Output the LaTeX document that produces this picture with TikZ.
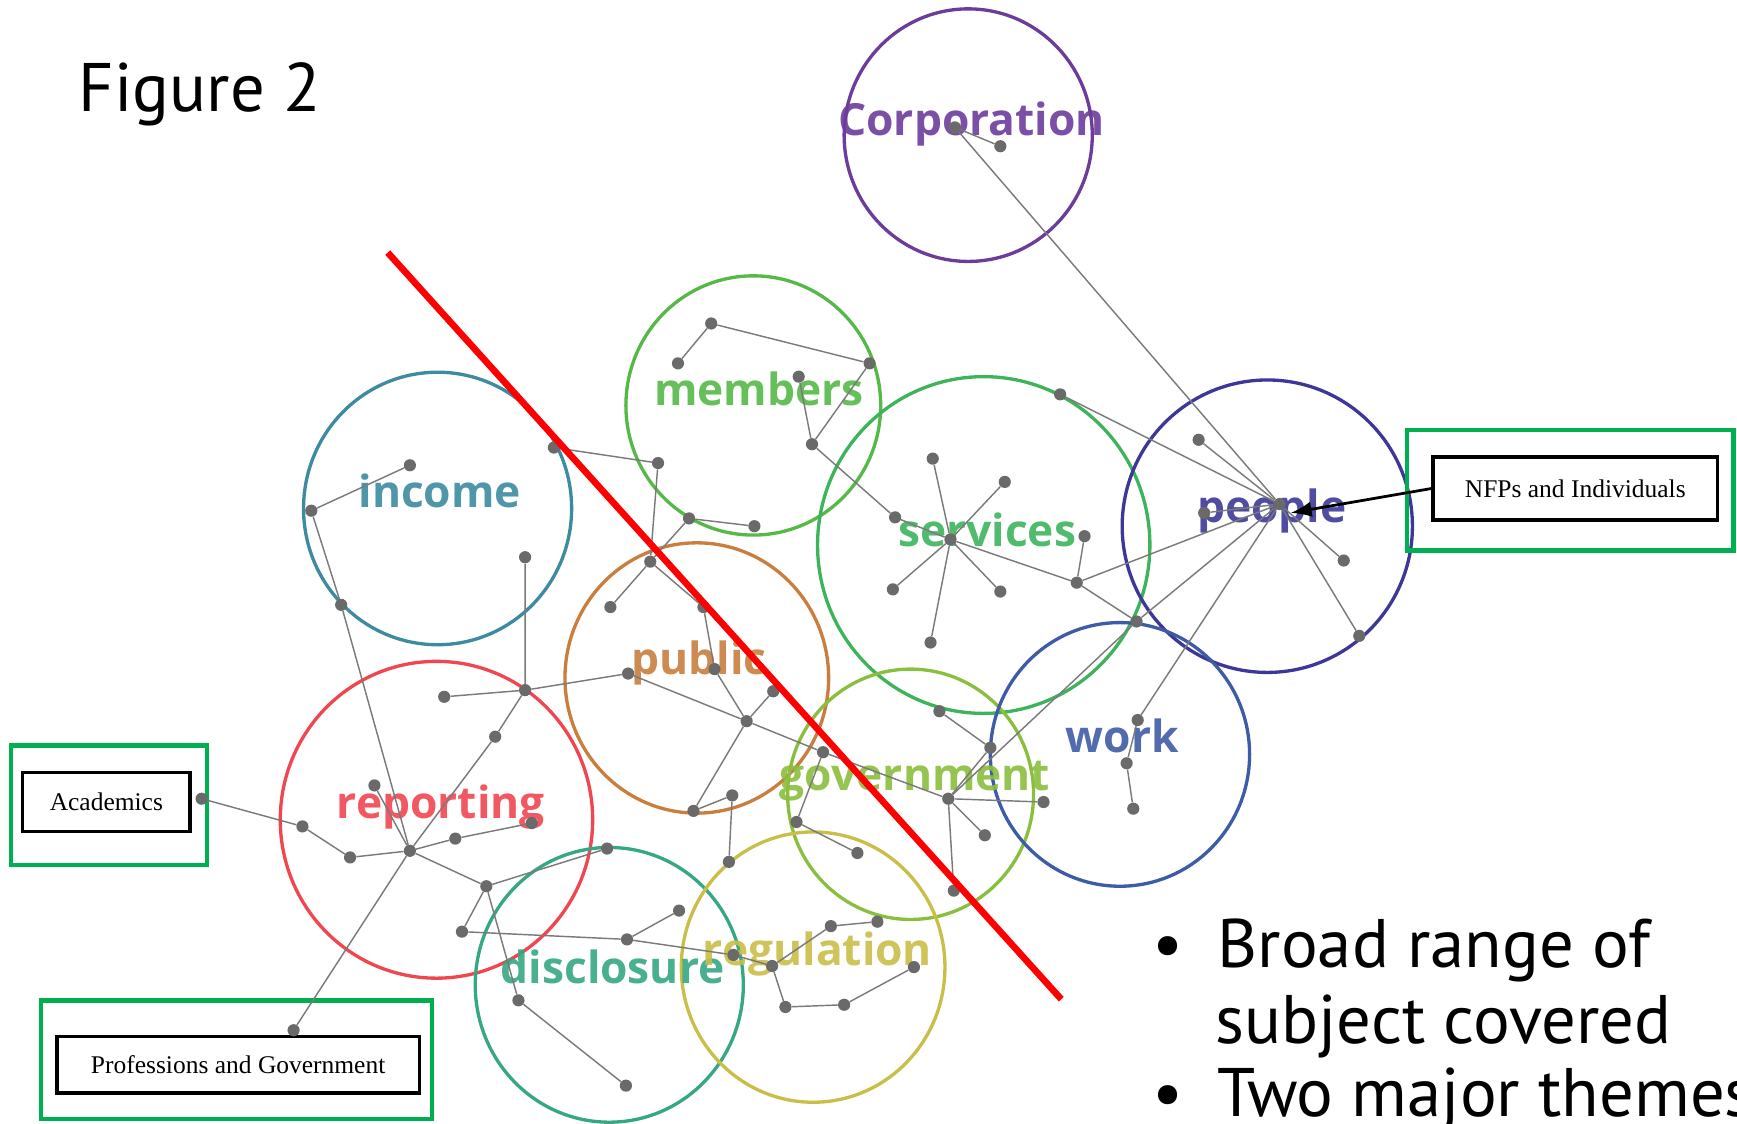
\documentclass[tikz,border=0pt]{standalone}
\usepackage{fontspec}
\setmainfont{Liberation Serif}
\newfontfamily\handfont{PT Sans}
\newfontfamily\topicfont{Open Sans}
\usepackage{xcolor}
\usetikzlibrary{arrows.meta}
\tikzset{>={Latex[width=14pt,length=19pt]}}
\definecolor{linkgray}{HTML}{7A7A7A}
\definecolor{dotgray}{HTML}{6A6A6A}
\definecolor{boxgreen}{HTML}{00B050}
\definecolor{corpcol}{HTML}{6B3C9B}
\definecolor{memcol}{HTML}{55B947}
\definecolor{inccol}{HTML}{3D8BA0}
\definecolor{servcol}{HTML}{3DB45C}
\definecolor{peopcol}{HTML}{3D3897}
\definecolor{pubcol}{HTML}{C97E3E}
\definecolor{repcol}{HTML}{EF4650}
\definecolor{govcol}{HTML}{8ABE3E}
\definecolor{workcol}{HTML}{3E5BA5}
\definecolor{disccol}{HTML}{35A783}
\definecolor{regcol}{HTML}{C9BE48}
\tikzset{
	ring/.style={line width=3pt},
	topic/.style={font=\topicfont\bfseries\fontsize{40}{42}\selectfont, anchor=base, inner sep=0pt, opacity=0.9},
	netdot/.style={circle, fill=dotgray, inner sep=0pt, minimum size=11pt},
	link/.style={draw=linkgray, line width=1.3pt},
	labelbox/.style={draw=black, line width=3pt, fill=white, font=\fontsize{23}{25}\selectfont, inner sep=0pt},
	greenbox/.style={draw=boxgreen, line width=4pt},
	handtext/.style={font=\handfont\fontsize{62}{64}\selectfont, anchor=base west, inner sep=0pt}
}

\begin{document}
\begin{tikzpicture}[x=1pt,y=-1pt]
		\useasboundingbox (0,0) rectangle (1568,1014);
		\clip (0,0) rectangle (1568,1014);
		\begin{scope}
			%topic circles
			\draw[ring,corpcol] (874,122) ellipse [x radius=112,y radius=114];
			\draw[ring,memcol] (680,366) ellipse [x radius=115,y radius=117];
			\draw[ring,inccol] (395,459) ellipse [x radius=121,y radius=123];
			\draw[ring,servcol] (888,492) ellipse [x radius=150,y radius=152];
			\draw[ring,peopcol] (1144,475) ellipse [x radius=131,y radius=132];
			\draw[ring,pubcol] (629,612) ellipse [x radius=119,y radius=122];
			\draw[ring,repcol] (394,740) ellipse [x radius=141,y radius=143];
			\draw[ring,govcol] (822,717) ellipse [x radius=111,y radius=113];
			\draw[ring,workcol] (1011,681) ellipse [x radius=117,y radius=119];
			\draw[ring,disccol] (550,889) ellipse [x radius=121,y radius=124];
			\draw[ring,regcol] (734,873) ellipse [x radius=119,y radius=122];
			%topic labels
			\node[topic,text=corpcol] (corp) at (877,122) {Corporation};
			\node[topic,text=memcol] (mem) at (685,366) {members};
			\node[topic,text=inccol] (inc) at (397,458) {income};
			\node[topic,text=servcol] (serv) at (891,493) {services};
			\node[topic,text=peopcol] (peop) at (1148,472) {people};
			\node[topic,text=pubcol] (pub) at (631,609) {public};
			\node[topic,text=repcol] (rep) at (398,739) {reporting};
			\node[topic,text=govcol] (gov) at (826,714) {government};
			\node[topic,text=workcol] (work) at (1013,679) {work};
			\node[topic,text=disccol] (disc) at (553,888) {disclosure};
			\node[topic,text=regcol] (reg) at (738,872) {regulation};
		\end{scope}
		\begin{scope}
			%group boxes
			\draw[greenbox] (1270,388) rectangle (1565,497);
			\node[labelbox,minimum width=257pt,minimum height=57pt] (nfp) at (1422,441) {NFPs and Individuals};
			\draw[greenbox] (10,673) rectangle (187,781);
			\node[labelbox,minimum width=151pt,minimum height=53pt] (acad) at (96,724) {Academics};
			\draw[greenbox] (37,903) rectangle (390,1010);
			\node[labelbox,minimum width=327pt,minimum height=51pt] (prof) at (215,961) {Professions and Government};
		\end{scope}
		\begin{scope}
			%Corporation and people
			\node[netdot] (c1) at (862,115) {}; \node[netdot] (c2) at (903,132) {};
			\node[netdot] (p0) at (1155,455) {}; \node[netdot] (p1) at (1082,397) {};
			\node[netdot] (p2) at (1213,506) {}; \node[netdot] (p3) at (1227,574) {};
			\node[netdot] (p4) at (1087,463) {}; \node[netdot] (x0) at (1026,561) {};
			%services
			\node[netdot] (s0) at (858,487) {}; \node[netdot] (s1) at (842,414) {};
			\node[netdot] (s2) at (907,435) {}; \node[netdot] (s3) at (806,532) {};
			\node[netdot] (s4) at (903,534) {}; \node[netdot] (s5) at (840,580) {};
			\node[netdot] (s6) at (808,467) {}; \node[netdot] (s7) at (957,356) {};
			\node[netdot] (s8) at (972,526) {}; \node[netdot] (s9) at (979,484) {};
			%members
			\node[netdot] (m1) at (642,292) {}; \node[netdot] (m2) at (612,328) {};
			\node[netdot] (m3) at (785,328) {}; \node[netdot] (m4) at (721,340) {};
			\node[netdot] (m5) at (733,401) {}; \node[netdot] (m6) at (594,418) {};
			\node[netdot] (m7) at (500,404) {}; \node[netdot] (m8) at (622,468) {};
			\node[netdot] (m9) at (681,475) {};
			%income
			\node[netdot] (i1) at (370,420) {}; \node[netdot] (i2) at (281,461) {};
			\node[netdot] (i3) at (308,546) {}; \node[netdot] (i4) at (474,503) {};
			\node[netdot] (j0) at (474,623) {}; \node[netdot] (j1) at (401,629) {};
			\node[netdot] (j2) at (447,665) {};
			%public
			\node[netdot] (pu1) at (587,507) {}; \node[netdot] (pu2) at (551,548) {};
			\node[netdot] (pu3) at (635,548) {}; \node[netdot] (pu4) at (645,604) {};
			\node[netdot] (pu5) at (674,651) {}; \node[netdot] (pu6) at (567,608) {};
			\node[netdot] (pu7) at (698,624) {}; \node[netdot] (pu8) at (626,732) {};
			\node[netdot] (pu9) at (661,718) {}; \node[netdot] (pu10) at (658,778) {};
			%government and work
			\node[netdot] (g0) at (856,721) {}; \node[netdot] (g1) at (848,642) {};
			\node[netdot] (g2) at (894,675) {}; \node[netdot] (g3) at (942,724) {};
			\node[netdot] (g4) at (889,754) {}; \node[netdot] (g5) at (861,804) {};
			\node[netdot] (gl1) at (743,679) {}; \node[netdot] (gl2) at (719,742) {};
			\node[netdot] (gl3) at (774,770) {};
			\node[netdot] (w1) at (1027,650) {}; \node[netdot] (w2) at (1017,689) {};
			\node[netdot] (w3) at (1023,730) {};
			%reporting
			\node[netdot] (r0) at (370,768) {}; \node[netdot] (r1) at (338,709) {};
			\node[netdot] (r2) at (316,774) {}; \node[netdot] (r3) at (273,746) {};
			\node[netdot] (r4) at (411,757) {}; \node[netdot] (r5) at (480,743) {};
			\node[netdot] (r6) at (439,800) {};
			\node[netdot] (e1) at (182,721) {}; \node[netdot] (e2) at (265,930) {};
			%disclosure and regulation
			\node[netdot] (d1) at (548,766) {}; \node[netdot] (d2) at (417,841) {};
			\node[netdot] (d3) at (566,848) {}; \node[netdot] (d4) at (613,822) {};
			\node[netdot] (d5) at (468,903) {}; \node[netdot] (d6) at (565,980) {};
			\node[netdot] (q0) at (697,872) {}; \node[netdot] (q1) at (662,862) {};
			\node[netdot] (q2) at (709,909) {}; \node[netdot] (q3) at (762,907) {};
			\node[netdot] (q4) at (825,873) {}; \node[netdot] (q5) at (750,836) {};
			\node[netdot] (q6) at (792,832) {};
			%links
			\draw[link] (c2) -- (c1) -- (p0);
			\draw[link] (p1) -- (p0) -- (p2);
			\draw[link] (p0) -- (p3);
			\draw[link] (p4) -- (p0) -- (s7);
			\draw[link] (s8) -- (p0) -- (x0) -- (g0);
			\draw[link] (s8) -- (x0);
			\draw[link] (p0) -- (w1) -- (w2) -- (w3);
			\draw[link] (s0) -- (s1);
			\draw[link] (s0) -- (s2);
			\draw[link] (s0) -- (s3);
			\draw[link] (s0) -- (s4);
			\draw[link] (s0) -- (s5);
			\draw[link] (m5) -- (s6) -- (s0) -- (s8) -- (s9);
			\draw[link] (m2) -- (m1) -- (m3) -- (m5) -- (m4);
			\draw[link] (m7) -- (m6) -- (pu1) -- (m8) -- (m9);
			\draw[link] (i1) -- (i2) -- (i3) -- (r0);
			\draw[link] (i4) -- (j0) -- (j1);
			\draw[link] (j0) -- (pu6) -- (pu5);
			\draw[link] (j0) -- (j2) -- (r0) -- (e2);
			\draw[link] (pu2) -- (pu1) -- (pu3) -- (pu4) -- (pu5) -- (pu7);
			\draw[link] (pu5) -- (gl1) -- (g0);
			\draw[link] (pu5) -- (pu8) -- (pu9) -- (pu10);
			\draw[link] (g1) -- (g2) -- (g0) -- (g3);
			\draw[link] (g0) -- (g4);
			\draw[link] (g0) -- (g5);
			\draw[link] (gl1) -- (gl2) -- (gl3);
			\draw[link] (r1) -- (r0) -- (r2) -- (r3) -- (e1);
			\draw[link] (r0) -- (r4) -- (r5);
			\draw[link] (r0) -- (r6) -- (d1);
			\draw[link] (r6) -- (d2) -- (d3) -- (d4);
			\draw[link] (r6) -- (d5) -- (d6);
			\draw[link] (d3) -- (q1) -- (q0) -- (q2) -- (q3) -- (q4);
			\draw[link] (q0) -- (q5) -- (q6);
		\end{scope}
		%dividing line
		\coordinate (cutA) at (350,228);
		\coordinate (cutB) at (958,902);
		\draw[red, line width=6pt] (cutA) -- (cutB);
		%NFPs arrow
		\coordinate (ptip) at (1165,463);
		\draw[arrows=->, line width=2.5pt] (nfp.west) -- (ptip);
		%slide text
		\node[handtext] (fig) at (71,101) {Figure 2};
		\node[handtext, anchor=base] (bul1) at (1054,873) {•};
		\node[handtext] (bt1) at (1099,873) {Broad range of};
		\node[handtext] (bt2) at (1097,942) {subject covered};
		\node[handtext, anchor=base] (bul2) at (1054,1008) {•};
		\node[handtext] (bt3) at (1099,1008) {Two major themes};
	\end{tikzpicture}
\end{document}
